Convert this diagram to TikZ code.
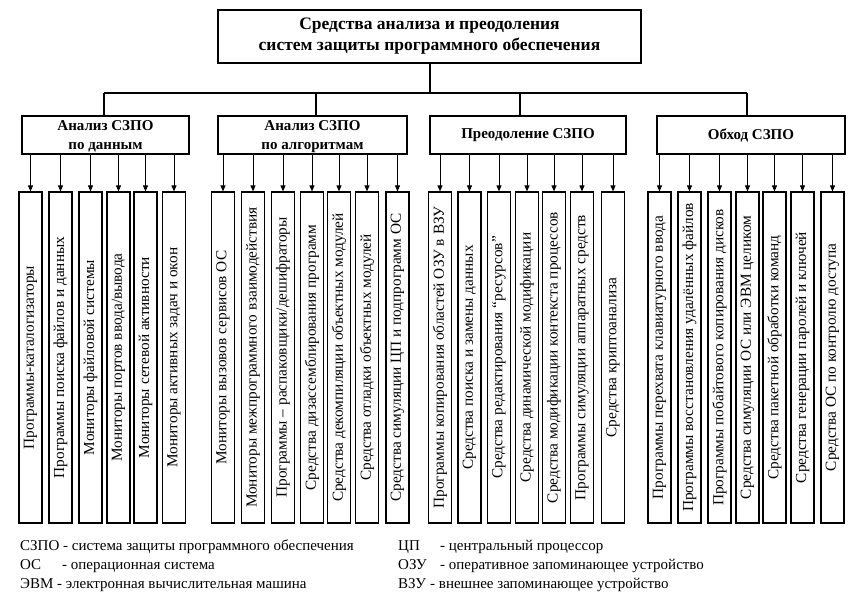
\documentclass[tikz,border=0pt]{standalone}
\usepackage{fontspec}
\setmainfont{Liberation Serif}
\usetikzlibrary{arrows.meta}
\newcommand\mkleaf[4]{%
  \node[leafbox] (#1) at (#2,357.5) {};
  \node[leaftext] (#1t) at (#1.center) {#4};
  \draw[arr] (#1.north |- #3.south) -- (#1.north);
}
\begin{document}
\begin{tikzpicture}[x=1pt,y=-1pt,
  titlebox/.style={draw,line width=1.3pt,minimum width=423pt,minimum height=53pt,inner sep=0pt,align=center,
    font=\fontsize{17.5}{21}\selectfont\bfseries},
  catbox/.style={draw,line width=1.3pt,minimum height=38pt,inner sep=0pt,align=center,
    font=\fontsize{15}{19}\selectfont\bfseries},
  leafbox/.style={draw,line width=1.2pt,minimum width=23pt,minimum height=331pt,inner sep=0pt},
  leaftext/.style={rotate=90,inner sep=0pt,font=\fontsize{15.3}{18}\selectfont},
  bus/.style={line width=2.2pt},
  arr/.style={line width=1pt,-{Triangle[width=5pt,length=6pt]}},
  legend/.style={anchor=base west,inner sep=0pt,font=\fontsize{15}{18}\selectfont}]
\useasboundingbox (0,0) rectangle (868,600);
\fill[white] (0,0) rectangle (868,600);

\node[titlebox] (top) at (429.5,36.5) {Средства анализа и преодоления\\систем защиты программного обеспечения};

\node[catbox,minimum width=167pt] (c1) at (105.5,135) {\rule{0pt}{13pt}Анализ СЗПО\\по данным};
\node[catbox,minimum width=189pt] (c2) at (312.5,135) {\rule{0pt}{13pt}Анализ СЗПО\\по алгоритмам};
\node[catbox,minimum width=196pt] (c3) at (528,135) {Преодоление СЗПО};
\node[catbox,minimum width=188pt] (c4) at (751,135) {Обход СЗПО};

\coordinate (bt) at (430,93);
\coordinate (b1) at (104,93);
\coordinate (b2) at (316,93);
\coordinate (b3) at (520,93);
\coordinate (b4) at (747,93);
\draw[bus] (top.south -| bt) -- (bt);
\draw[bus] (b1) -- (b4);
\draw[bus] (b1) -- (b1 |- c1.north);
\draw[bus] (b2) -- (b2 |- c2.north);
\draw[bus] (b3) -- (b3 |- c3.north);
\draw[bus] (b4) -- (b4 |- c4.north);

\mkleaf{l11}{30.5}{c1}{Программы-каталогизаторы}
\mkleaf{l12}{60.5}{c1}{Программы поиска файлов и данных}
\mkleaf{l13}{90.5}{c1}{Мониторы файловой системы}
\mkleaf{l14}{118.5}{c1}{Мониторы портов ввода/вывода}
\mkleaf{l15}{145.5}{c1}{Мониторы сетевой активности}
\mkleaf{l16}{174}{c1}{Мониторы активных задач и окон}

\mkleaf{l21}{223}{c2}{Мониторы вызовов сервисов ОС}
\mkleaf{l22}{253}{c2}{Мониторы межпрограммного взаимодействия}
\mkleaf{l23}{283}{c2}{Программы – распаковщики/дешифраторы}
\mkleaf{l24}{312}{c2}{Средства дизассемблирования программ}
\mkleaf{l25}{339}{c2}{Средства декомпиляции объектных модулей}
\mkleaf{l26}{367}{c2}{Средства отладки объектных модулей}
\mkleaf{l27}{397.5}{c2}{Средства симуляции ЦП и подпрограмм ОС}

\mkleaf{l31}{440}{c3}{Программы копирования областей ОЗУ в ВЗУ}
\mkleaf{l32}{469.5}{c3}{Средства поиска и замены данных}
\mkleaf{l33}{499}{c3}{Средства редактирования “ресурсов”}
\mkleaf{l34}{527}{c3}{Средства динамической модификации}
\mkleaf{l35}{554}{c3}{Средства модификации контекста процессов}
\mkleaf{l36}{582}{c3}{Программы симуляции аппаратных средств}
\mkleaf{l37}{613}{c3}{Средства криптоанализа}

\mkleaf{l41}{659.5}{c4}{Программы перехвата клавиатурного ввода}
\mkleaf{l42}{689.5}{c4}{Программы восстановления удалённых файлов}
\mkleaf{l43}{719.5}{c4}{Программы побайтового копирования дисков}
\mkleaf{l44}{747.5}{c4}{Средства симуляции ОС или ЭВМ целиком}
\mkleaf{l45}{774.5}{c4}{Средства пакетной обработки команд}
\mkleaf{l46}{802.5}{c4}{Средства генерации паролей и ключей}
\mkleaf{l47}{832.5}{c4}{Средства ОС по контролю доступа}

\node[legend] (a1) at (20,550) {СЗПО};
\node[legend] (d1) at (63,550) {- система защиты программного обеспечения};
\node[legend] (a2) at (20,569) {ОС};
\node[legend] (d2) at (62,569) {- операционная система};
\node[legend] (a3) at (20,588) {ЭВМ};
\node[legend] (d3) at (57,588) {- электронная вычислительная машина};
\node[legend] (a4) at (398,550) {ЦП};
\node[legend] (d4) at (440,550) {- центральный процессор};
\node[legend] (a5) at (398,569) {ОЗУ};
\node[legend] (d5) at (440,569) {- оперативное запоминающее устройство};
\node[legend] (a6) at (398,588) {ВЗУ};
\node[legend] (d6) at (430,588) {- внешнее запоминающее устройство};
\end{tikzpicture}
\end{document}
